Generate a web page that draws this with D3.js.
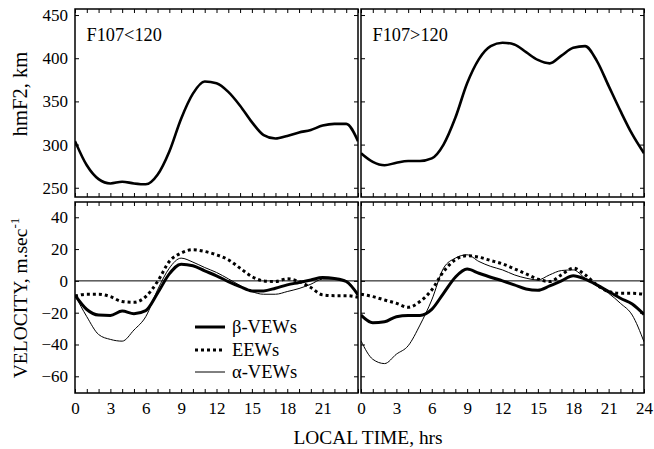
<!DOCTYPE html>
<html><head><meta charset="utf-8">
<script src="https://cdn.jsdelivr.net/npm/d3@7"></script>
<style>body{margin:0;background:#fff}svg{display:block}text{font-family:"Liberation Serif","Times New Roman",serif;fill:#000}</style>
</head><body><div id="c"></div>
<script>
const hours = d3.range(0, 25);
const hmLow  = [304,276,260,255,257,255,254,265,292,330,359,373,371,361,345,326,311,307,310,314,317,322,324,324,304];
const hmHigh = [290,280,276,279,281,281,284,300,331,371,399,414,418,416,407,398,394,403,412,414,397,368,339,312,290];
const betaLow  = [-9,-18,-21.5,-21.7,-19,-20.6,-18.7,-7.8,4.4,10.5,9.5,6.3,3.2,-0.4,-3.6,-6.3,-6.3,-4.6,-2.5,-1,0.6,2.1,1.5,-0.4,-8.8];
const eewLow   = [-9.5,-8.4,-8.4,-9.9,-13,-13.5,-9.9,-0.4,12.2,17.5,19.6,18.5,16.4,13.3,8,2.7,0,-0.4,1.3,-0.4,-4.2,-8.8,-9.3,-9.3,-10.3];
const alphaLow = [-9,-22.5,-33.7,-36.8,-37.9,-30.9,-22.5,-5.7,8,14.3,11.8,8.4,5.3,1.3,-2.9,-6.7,-8.4,-8.4,-6.7,-4.8,-2.1,1.1,1.1,0,-8.8];
const betaHigh  = [-21.5,-26.3,-25.7,-22.5,-21.7,-21.7,-17.9,-7.8,2.3,7.4,4.8,2.3,0,-2.5,-5.1,-5.9,-3.2,0,3.2,1.1,-2.5,-6.7,-10.9,-14.5,-21.1];
const eewHigh   = [-8.4,-9.9,-12,-14.1,-16.6,-13,-5.7,5.9,13.3,15.8,14.9,12.8,10.7,7.6,4.4,1.1,-0.4,3.8,8,3.8,-2.5,-6.7,-7.8,-7.8,-8.4];
const alphaHigh = [-37.7,-49.3,-52,-46.1,-40.8,-27.8,-12,8,14.3,16.4,12.2,9.1,6.9,3.8,1.7,0.6,3.8,6.5,6.9,1.7,-3.2,-7.8,-14.1,-21.5,-38.3];
const hmTicks = [250,300,350,400,450];
const velTicks = [-60,-40,-20,0,20,40];
const xTicksLeft = [0,3,6,9,12,15,18,21];
const xTicksRight = [0,3,6,9,12,15,18,21,24];
const panelTitles = ["F107<120","F107>120"];
const legendNames = ["β-VEWs","EEWs","α-VEWs"];

const W=654,H=449;
const svg=d3.select("#c").append("svg").attr("width",W).attr("height",H);
const cols=[{x0:75,x1:358},{x0:361,x1:644}];
const rows={top:{y0:9,y1:197},bot:{y0:202,y1:393}};
const yTop=d3.scaleLinear().domain([239.3,457]).range([rows.top.y1,rows.top.y0]);
const yBot=d3.scaleLinear().domain([-70.5,49.6]).range([rows.bot.y1,rows.bot.y0]);
const FS=17;

const styles={
  beta:{w:3,dash:null},
  eew:{w:3,dash:"3,3"},
  alpha:{w:1,dash:null}
};

function panel(ci,row,yScale,yTicks,showYLabels,xTickVals,series){
  const c=cols[ci], r=rows[row];
  const x=d3.scaleLinear().domain([0,24]).range([c.x0,c.x1]);
  const g=svg.append("g");
  const tl=4;
  g.append("g").attr("transform",`translate(0,${r.y1})`)
    .call(d3.axisBottom(x).tickValues(hours).tickSize(-tl).tickFormat(""))
    .call(s=>{s.select(".domain").remove();s.selectAll("line").attr("stroke","#000");});
  g.append("g").attr("transform",`translate(0,${r.y0})`)
    .call(d3.axisTop(x).tickValues(hours).tickSize(-tl).tickFormat(""))
    .call(s=>{s.select(".domain").remove();s.selectAll("line").attr("stroke","#000");});
  g.append("g").attr("transform",`translate(${c.x0},0)`)
    .call(d3.axisLeft(yScale).tickValues(yTicks).tickSize(-tl).tickFormat(""))
    .call(s=>{s.select(".domain").remove();s.selectAll("line").attr("stroke","#000");});
  g.append("g").attr("transform",`translate(${c.x1},0)`)
    .call(d3.axisRight(yScale).tickValues(yTicks).tickSize(-tl).tickFormat(""))
    .call(s=>{s.select(".domain").remove();s.selectAll("line").attr("stroke","#000");});
  if(showYLabels){
    g.append("g").attr("transform",`translate(${c.x0},0)`)
      .call(d3.axisLeft(yScale).tickValues(yTicks).tickSize(0).tickPadding(7).tickFormat(d3.format("d")))
      .call(s=>{s.select(".domain").remove();s.selectAll("text").attr("font-size",FS).attr("font-family","Liberation Serif");});
  }
  if(xTickVals){
    g.append("g").attr("transform",`translate(0,${r.y1})`)
      .call(d3.axisBottom(x).tickValues(xTickVals).tickSize(0).tickPadding(8.5).tickFormat(d3.format("d")))
      .call(s=>{s.select(".domain").remove();s.selectAll("text").attr("font-size",FS).attr("font-family","Liberation Serif");});
  }
  if(row==="bot"){
    g.append("line").attr("x1",c.x0).attr("x2",c.x1).attr("y1",yScale(0)).attr("y2",yScale(0)).attr("stroke","#000").attr("stroke-width",1);
  }
  const clipId="clip"+ci+row;
  svg.append("clipPath").attr("id",clipId).append("rect").attr("x",c.x0).attr("y",r.y0).attr("width",c.x1-c.x0).attr("height",r.y1-r.y0);
  series.forEach(s=>{
    const line=d3.line().x((d,i)=>x(hours[i])).y(d=>yScale(d)).curve(d3.curveMonotoneX);
    g.append("path").datum(s.data).attr("d",line).attr("fill","none").attr("stroke","#000")
      .attr("stroke-width",s.w).attr("stroke-dasharray",s.dash).attr("stroke-linejoin","round")
      .attr("clip-path",`url(#${clipId})`);
  });
  g.append("rect").attr("x",c.x0).attr("y",r.y0).attr("width",c.x1-c.x0).attr("height",r.y1-r.y0)
    .attr("fill","none").attr("stroke","#000").attr("stroke-width",1.5);
  return {x,g};
}

panel(0,"top",yTop,hmTicks,true,null,[{data:hmLow,w:2.6}]);
panel(1,"top",yTop,hmTicks,false,null,[{data:hmHigh,w:2.6}]);
panel(0,"bot",yBot,velTicks,true,xTicksLeft,[
  {data:alphaLow,...styles.alpha},{data:eewLow,...styles.eew},{data:betaLow,...styles.beta}]);
panel(1,"bot",yBot,velTicks,false,xTicksRight,[
  {data:alphaHigh,...styles.alpha},{data:eewHigh,...styles.eew},{data:betaHigh,...styles.beta}]);

svg.append("text").attr("x",86.5).attr("y",41).attr("font-size",18.3).text(panelTitles[0]);
svg.append("text").attr("x",372.5).attr("y",41).attr("font-size",18.3).text(panelTitles[1]);

// legend
const legY=[327,350,372];
const legSt=[styles.beta,styles.eew,styles.alpha];
legendNames.forEach((n,i)=>{
  svg.append("line").attr("x1",195).attr("x2",225).attr("y1",legY[i]).attr("y2",legY[i])
    .attr("stroke","#000").attr("stroke-width",legSt[i].w).attr("stroke-dasharray",legSt[i].dash);
  svg.append("text").attr("x",232).attr("y",legY[i]).attr("dy","0.35em").attr("font-size",18.5).text(n);
});

// axis titles
svg.append("text").attr("transform","translate(27,94) rotate(-90)").attr("text-anchor","middle").attr("font-size",20.5).text("hmF2, km");
const vt=svg.append("text").attr("transform","translate(27,298) rotate(-90)").attr("text-anchor","middle").attr("font-size",19.5);
vt.append("tspan").text("VELOCITY, m.sec");
vt.append("tspan").attr("dy",-8).attr("font-size",13).text("-1");
svg.append("text").attr("x",368).attr("y",444).attr("text-anchor","middle").attr("font-size",19.4).text("LOCAL TIME, hrs");
</script></body></html>
